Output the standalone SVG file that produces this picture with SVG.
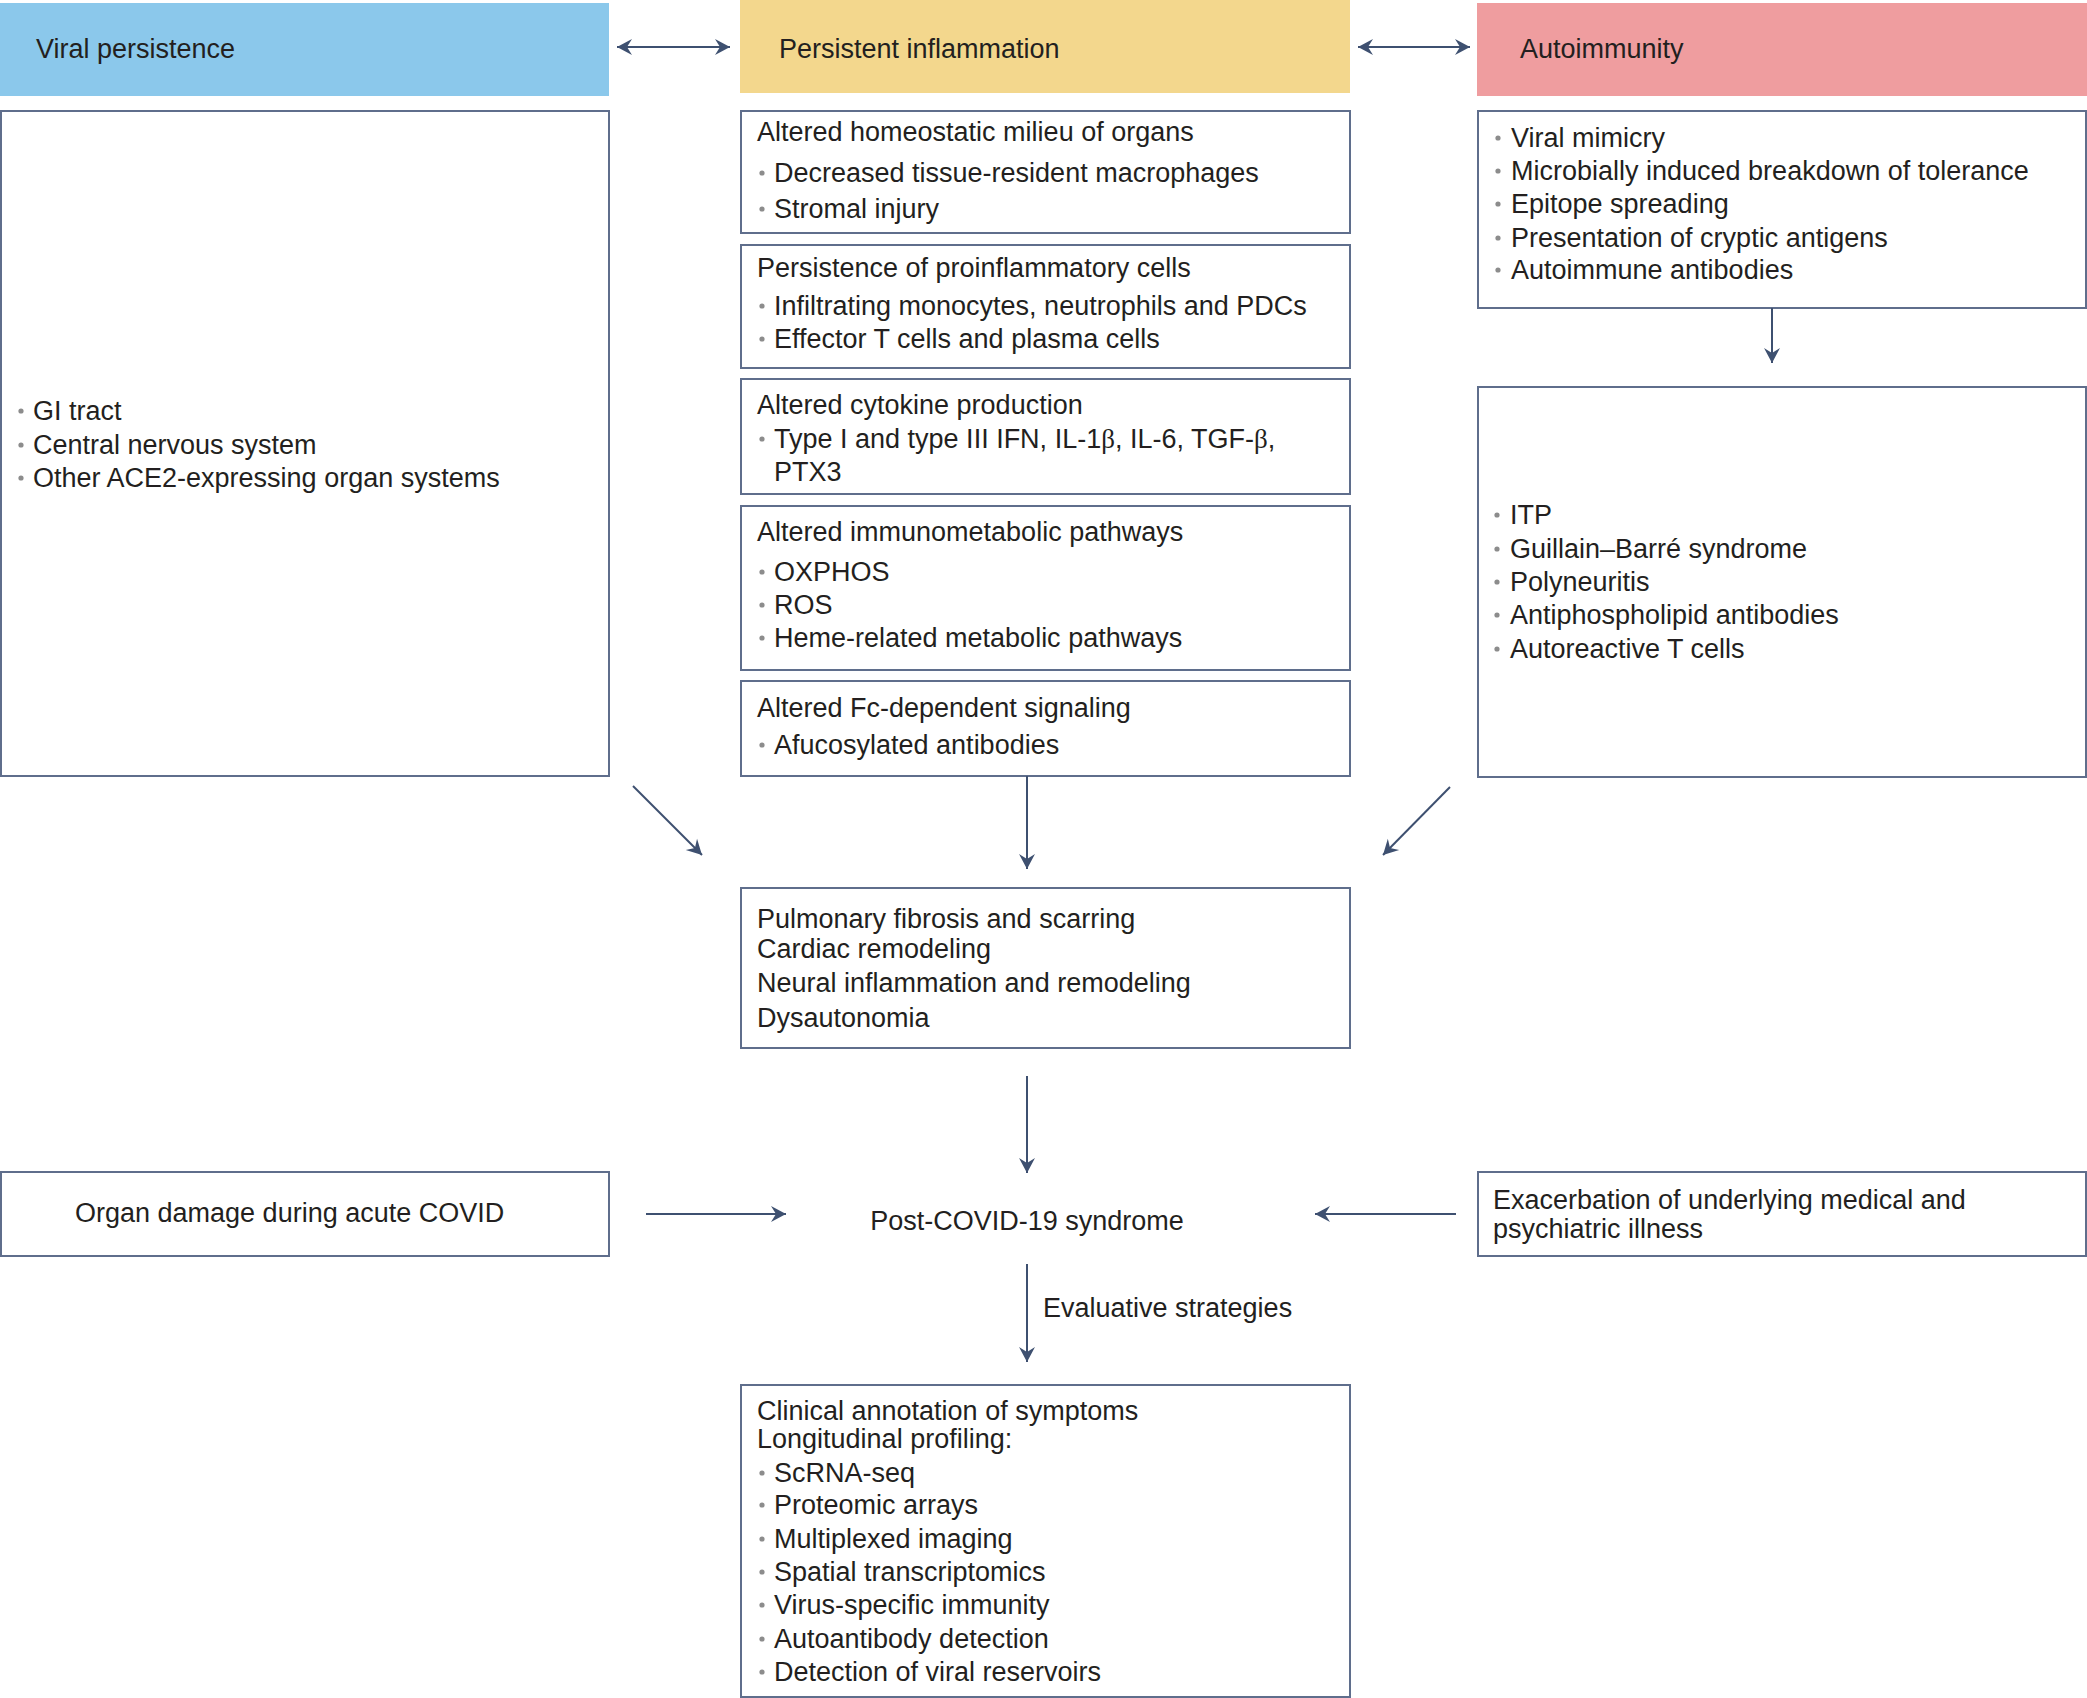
<svg xmlns="http://www.w3.org/2000/svg" width="2087" height="1698" viewBox="0 0 2087 1698">
<style>
text{font-family:"Liberation Sans",Arial,Helvetica,sans-serif;font-size:27px;fill:#231f20}
.box{fill:#ffffff;stroke:#5f6e8c;stroke-width:2}
.dot{fill:#8c8c8c}
.con{stroke:#3e5070;stroke-width:2;fill:none}
.gr{font-family:"Liberation Serif","Times New Roman",serif}
</style>
<defs>
<marker id="ah" viewBox="-16 -9 17 18" refX="0" refY="0" markerWidth="17" markerHeight="18" markerUnits="userSpaceOnUse" orient="auto-start-reverse">
<path d="M0,0 L-15,-8 L-10,0 L-15,8 Z" fill="#3e5070"/>
</marker>
</defs>
<rect width="2087" height="1698" fill="#ffffff"/>

<g id="hdr-viral">
<rect x="0" y="3" width="609" height="93" fill="#8bc8eb"/>
<text x="36" y="58">Viral persistence</text>
</g>
<g id="hdr-inflam">
<rect x="740" y="0" width="610" height="93" fill="#f3d78d"/>
<text x="779" y="58">Persistent inflammation</text>
</g>
<g id="hdr-auto">
<rect x="1477" y="3" width="610" height="93" fill="#ef9d9f"/>
<text x="1520" y="58">Autoimmunity</text>
</g>

<g id="viral-box">
<rect class="box" x="1" y="111" width="608" height="665"/>
<circle class="dot" cx="21" cy="411" r="2.6"/><text x="33" y="420">GI tract</text>
<circle class="dot" cx="21" cy="445" r="2.6"/><text x="33" y="454">Central nervous system</text>
<circle class="dot" cx="21" cy="478" r="2.6"/><text x="33" y="487">Other ACE2-expressing organ systems</text>
</g>

<g id="inflam-homeostatic">
<rect class="box" x="741" y="111" width="609" height="122"/>
<text x="757" y="141">Altered homeostatic milieu of organs</text>
<circle class="dot" cx="762" cy="173" r="2.6"/><text x="774" y="182">Decreased tissue-resident macrophages</text>
<circle class="dot" cx="762" cy="209" r="2.6"/><text x="774" y="218">Stromal injury</text>
</g>
<g id="inflam-cells">
<rect class="box" x="741" y="245" width="609" height="123"/>
<text x="757" y="277">Persistence of proinflammatory cells</text>
<circle class="dot" cx="762" cy="306" r="2.6"/><text x="774" y="315">Infiltrating monocytes, neutrophils and PDCs</text>
<circle class="dot" cx="762" cy="339" r="2.6"/><text x="774" y="348">Effector T cells and plasma cells</text>
</g>
<g id="inflam-cytokine">
<rect class="box" x="741" y="379" width="609" height="115"/>
<text x="757" y="414">Altered cytokine production</text>
<circle class="dot" cx="762" cy="439" r="2.6"/><text x="774" y="448">Type I and type III IFN, IL-1<tspan class="gr">β</tspan>, IL-6, TGF-<tspan class="gr">β</tspan>,</text>
<text x="774" y="481">PTX3</text>
</g>
<g id="inflam-metabolic">
<rect class="box" x="741" y="506" width="609" height="164"/>
<text x="757" y="541">Altered immunometabolic pathways</text>
<circle class="dot" cx="762" cy="572" r="2.6"/><text x="774" y="581">OXPHOS</text>
<circle class="dot" cx="762" cy="605" r="2.6"/><text x="774" y="614">ROS</text>
<circle class="dot" cx="762" cy="638" r="2.6"/><text x="774" y="647">Heme-related metabolic pathways</text>
</g>
<g id="inflam-fc">
<rect class="box" x="741" y="681" width="609" height="95"/>
<text x="757" y="717">Altered Fc-dependent signaling</text>
<circle class="dot" cx="762" cy="745" r="2.6"/><text x="774" y="754">Afucosylated antibodies</text>
</g>

<g id="auto-mechanisms">
<rect class="box" x="1478" y="111" width="608" height="197"/>
<circle class="dot" cx="1498" cy="138" r="2.6"/><text x="1511" y="147">Viral mimicry</text>
<circle class="dot" cx="1498" cy="171" r="2.6"/><text x="1511" y="180">Microbially induced breakdown of tolerance</text>
<circle class="dot" cx="1498" cy="204" r="2.6"/><text x="1511" y="213">Epitope spreading</text>
<circle class="dot" cx="1498" cy="238" r="2.6"/><text x="1511" y="247">Presentation of cryptic antigens</text>
<circle class="dot" cx="1498" cy="270" r="2.6"/><text x="1511" y="279">Autoimmune antibodies</text>
</g>
<g id="auto-diseases">
<rect class="box" x="1478" y="387" width="608" height="390"/>
<circle class="dot" cx="1497" cy="515" r="2.6"/><text x="1510" y="524">ITP</text>
<circle class="dot" cx="1497" cy="549" r="2.6"/><text x="1510" y="558">Guillain–Barré syndrome</text>
<circle class="dot" cx="1497" cy="582" r="2.6"/><text x="1510" y="591">Polyneuritis</text>
<circle class="dot" cx="1497" cy="615" r="2.6"/><text x="1510" y="624">Antiphospholipid antibodies</text>
<circle class="dot" cx="1497" cy="649" r="2.6"/><text x="1510" y="658">Autoreactive T cells</text>
</g>

<g id="remodeling">
<rect class="box" x="741" y="888" width="609" height="160"/>
<text x="757" y="928">Pulmonary fibrosis and scarring</text>
<text x="757" y="958">Cardiac remodeling</text>
<text x="757" y="992">Neural inflammation and remodeling</text>
<text x="757" y="1027">Dysautonomia</text>
</g>

<g id="organ-damage">
<rect class="box" x="1" y="1172" width="608" height="84"/>
<text x="75" y="1222">Organ damage during acute COVID</text>
</g>
<g id="post-covid">
<text x="1027" y="1230" text-anchor="middle">Post-COVID-19 syndrome</text>
</g>
<g id="exacerbation">
<rect class="box" x="1478" y="1172" width="608" height="84"/>
<text x="1493" y="1209">Exacerbation of underlying medical and</text>
<text x="1493" y="1238">psychiatric illness</text>
</g>

<g id="evaluation">
<rect class="box" x="741" y="1385" width="609" height="312"/>
<text x="757" y="1420">Clinical annotation of symptoms</text>
<text x="757" y="1448">Longitudinal profiling:</text>
<circle class="dot" cx="762" cy="1473" r="2.6"/><text x="774" y="1482">ScRNA-seq</text>
<circle class="dot" cx="762" cy="1505" r="2.6"/><text x="774" y="1514">Proteomic arrays</text>
<circle class="dot" cx="762" cy="1539" r="2.6"/><text x="774" y="1548">Multiplexed imaging</text>
<circle class="dot" cx="762" cy="1572" r="2.6"/><text x="774" y="1581">Spatial transcriptomics</text>
<circle class="dot" cx="762" cy="1605" r="2.6"/><text x="774" y="1614">Virus-specific immunity</text>
<circle class="dot" cx="762" cy="1639" r="2.6"/><text x="774" y="1648">Autoantibody detection</text>
<circle class="dot" cx="762" cy="1672" r="2.6"/><text x="774" y="1681">Detection of viral reservoirs</text>
</g>

<g id="connectors">
<line class="con" x1="617" y1="47" x2="730" y2="47" marker-start="url(#ah)" marker-end="url(#ah)"/>
<line class="con" x1="1358" y1="47" x2="1470" y2="47" marker-start="url(#ah)" marker-end="url(#ah)"/>
<line class="con" x1="1772" y1="308" x2="1772" y2="363" marker-end="url(#ah)"/>
<line class="con" x1="633" y1="786" x2="702" y2="855" marker-end="url(#ah)"/>
<line class="con" x1="1027" y1="776" x2="1027" y2="869" marker-end="url(#ah)"/>
<line class="con" x1="1450" y1="787" x2="1383" y2="855" marker-end="url(#ah)"/>
<line class="con" x1="1027" y1="1076" x2="1027" y2="1173" marker-end="url(#ah)"/>
<line class="con" x1="646" y1="1214" x2="786" y2="1214" marker-end="url(#ah)"/>
<line class="con" x1="1456" y1="1214" x2="1315" y2="1214" marker-end="url(#ah)"/>
<line class="con" x1="1027" y1="1264" x2="1027" y2="1362" marker-end="url(#ah)"/>
<text x="1043" y="1317">Evaluative strategies</text>
</g>
</svg>
